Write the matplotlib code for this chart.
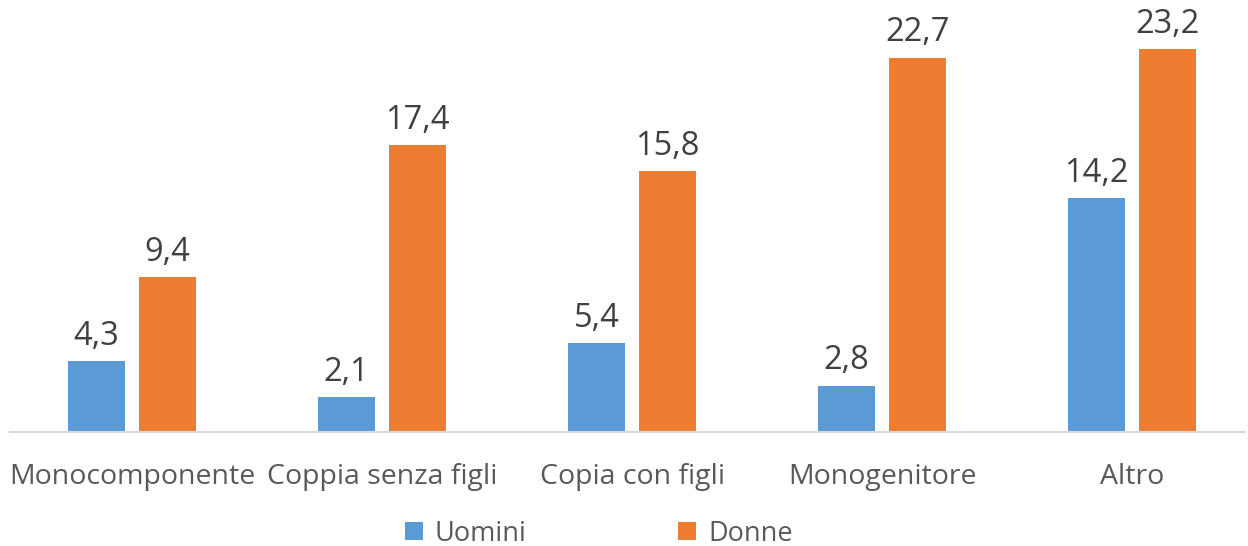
import numpy as np
import matplotlib
matplotlib.use("Agg")
import matplotlib.pyplot as plt

categorie = ["Monocomponente", "Coppia senza figli", "Copia con figli", "Monogenitore", "Altro"]
uomini = [4.3, 2.1, 5.4, 2.8, 14.2]
donne = [9.4, 17.4, 15.8, 22.7, 23.2]

plt.rcParams['font.family'] = ['Open Sans', 'DejaVu Sans']

blu = "#5b9bd5"
arancio = "#ed7d31"

fig = plt.figure(figsize=(12.48, 5.46), dpi=100)
ax = fig.add_axes([10 / 1248, (546 - 432) / 546, 1235 / 1248, 432 / 546])

x = np.arange(len(categorie))
w = 0.228
off = 0.142
b1 = ax.bar(x - off, uomini, w, color=blu, label="Uomini")
b2 = ax.bar(x + off, donne, w, color=arancio, label="Donne")

for bars, vals in ((b1, uomini), (b2, donne)):
    for r, v in zip(bars, vals):
        ax.annotate(f"{v:.1f}".replace(".", ","),
                    (r.get_x() + r.get_width() / 2, v),
                    xytext=(0, 6), textcoords="offset points",
                    ha="center", va="bottom", fontsize=23.5, color="#404040")

ax.set_xlim(-0.488, 4.452)
ax.set_ylim(0, 26.2)
for s in ("top", "left", "right"):
    ax.spines[s].set_visible(False)
ax.spines["bottom"].set_color("#d9d9d9")
ax.spines["bottom"].set_linewidth(1.5)
ax.set_yticks([])
ax.set_xticks(x)
ax.set_xticklabels(categorie, fontsize=20.5, color="#595959")
ax.tick_params(axis="x", length=0, pad=22)

fig.legend(handles=[b1, b2], loc="lower center", bbox_to_anchor=(0.48, -0.048),
           ncol=2, frameon=False, fontsize=19.5, labelcolor="#595959",
           handlelength=0.65, handleheight=0.65, handletextpad=0.45,
           columnspacing=5.6)

fig.savefig("out.png", dpi=100)
